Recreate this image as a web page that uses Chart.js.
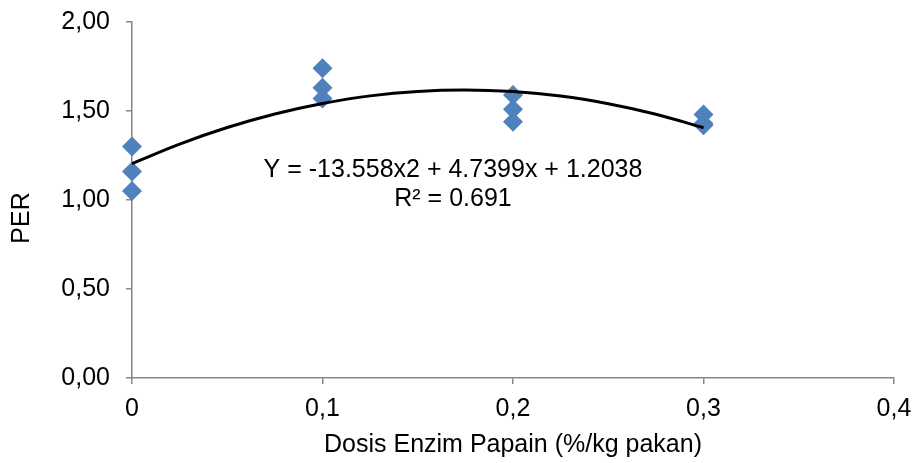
<!DOCTYPE html>
<html>
<head>
<meta charset="utf-8">
<script src="https://cdn.jsdelivr.net/npm/chart.js@4/dist/chart.umd.min.js"></script>
<style>
html,body{margin:0;padding:0;background:#fff;}
#wrap{width:914px;height:463px;position:relative;}
</style>
</head>
<body>
<div id="wrap"><canvas id="c" width="914" height="463"></canvas></div>
<script>
// Observed data (dose %/kg feed vs PER)
const doseX = [0, 0, 0, 0.1, 0.1, 0.1, 0.2, 0.2, 0.2, 0.3, 0.3, 0.3];
const perY  = [1.30, 1.16, 1.05, 1.74, 1.63, 1.57, 1.59, 1.51, 1.44, 1.48, 1.43, 1.42];

// Trendline
const trendX = [0, 0.025, 0.05, 0.075, 0.1, 0.125, 0.15, 0.175, 0.2, 0.225, 0.25, 0.275, 0.3];
const trendY = [1.204, 1.314, 1.407, 1.483, 1.542, 1.585, 1.610, 1.618, 1.609, 1.584, 1.541, 1.482, 1.406];

const equationText = ["Y = -13.558x2 + 4.7399x + 1.2038", "R² = 0.691"];
const yTitle = "PER";
const xTitle = "Dosis Enzim Papain (%/kg pakan)";
const xTicks = [0, 0.1, 0.2, 0.3, 0.4];
const yTicks = [0, 0.5, 1, 1.5, 2];

const FONT = "'Liberation Sans', Arial, sans-serif";
const FS = 25;
const AXIS = '#868686';

const annot = {
  id: 'annot',
  afterDatasetsDraw(chart) {
    const {ctx, scales:{x, y}} = chart;
    ctx.save();
    ctx.fillStyle = '#000';
    ctx.font = FS + 'px ' + FONT;
    ctx.textAlign = 'center';
    ctx.textBaseline = 'middle';
    const cx = x.getPixelForValue(0.1685);
    ctx.fillText(equationText[0], cx, y.getPixelForValue(1.168));
    ctx.fillText(equationText[1], cx, y.getPixelForValue(1.005));
    // y axis title
    ctx.translate(22, 218);
    ctx.rotate(-Math.PI / 2);
    ctx.fillText(yTitle, 0, 0);
    ctx.restore();
  }
};

function zeroPad(s) { s.paddingTop = 0; s.paddingBottom = 0; s.paddingLeft = 0; s.paddingRight = 0; }

new Chart(document.getElementById('c'), {
  type: 'scatter',
  data: {
    datasets: [
      {
        type: 'line',
        data: trendX.map((v, i) => ({x: v, y: trendY[i]})),
        borderColor: '#000',
        borderWidth: 3,
        pointRadius: 0,
        tension: 0.4,
        fill: false,
        clip: false,
        order: 0
      },
      {
        data: doseX.map((v, i) => ({x: v, y: perY[i]})),
        pointStyle: 'rectRot',
        pointRadius: 10,
        pointHoverRadius: 10,
        backgroundColor: '#4F81BD',
        borderColor: '#4F81BD',
        borderWidth: 0,
        clip: false,
        order: 1
      }
    ]
  },
  options: {
    responsive: false,
    animation: false,
    events: [],
    layout: {padding: {top: 22, right: 20, left: 0, bottom: 0}},
    plugins: {legend: {display: false}, tooltip: {enabled: false}},
    scales: {
      x: {
        type: 'linear',
        min: 0, max: 0.4,
        afterBuildTicks(s) { s.ticks = xTicks.map(v => ({value: v})); },
        afterFit(s) { s.height = 85; zeroPad(s); },
        border: {color: AXIS, width: 1.5},
        grid: {display: true, drawOnChartArea: false, drawTicks: true, tickLength: 6, color: AXIS, lineWidth: 1.5},
        ticks: {
          color: '#000', font: {family: FONT, size: FS}, padding: 10,
          callback: v => v === 0 ? '0' : String(v).replace('.', ',')
        },
        title: {display: true, text: xTitle, color: '#000', font: {family: FONT, size: FS}, padding: {top: 0, bottom: 3}}
      },
      y: {
        min: 0, max: 2,
        afterBuildTicks(s) { s.ticks = yTicks.map(v => ({value: v})); },
        afterFit(s) { s.width = 132; zeroPad(s); },
        border: {color: AXIS, width: 1.5},
        grid: {display: true, drawOnChartArea: false, drawTicks: true, tickLength: 6, color: AXIS, lineWidth: 1.5},
        ticks: {
          color: '#000', font: {family: FONT, size: FS}, padding: 16,
          callback: v => v.toFixed(2).replace('.', ',')
        },
        title: {display: false}
      }
    }
  },
  plugins: [annot]
});
</script>
</body>
</html>
